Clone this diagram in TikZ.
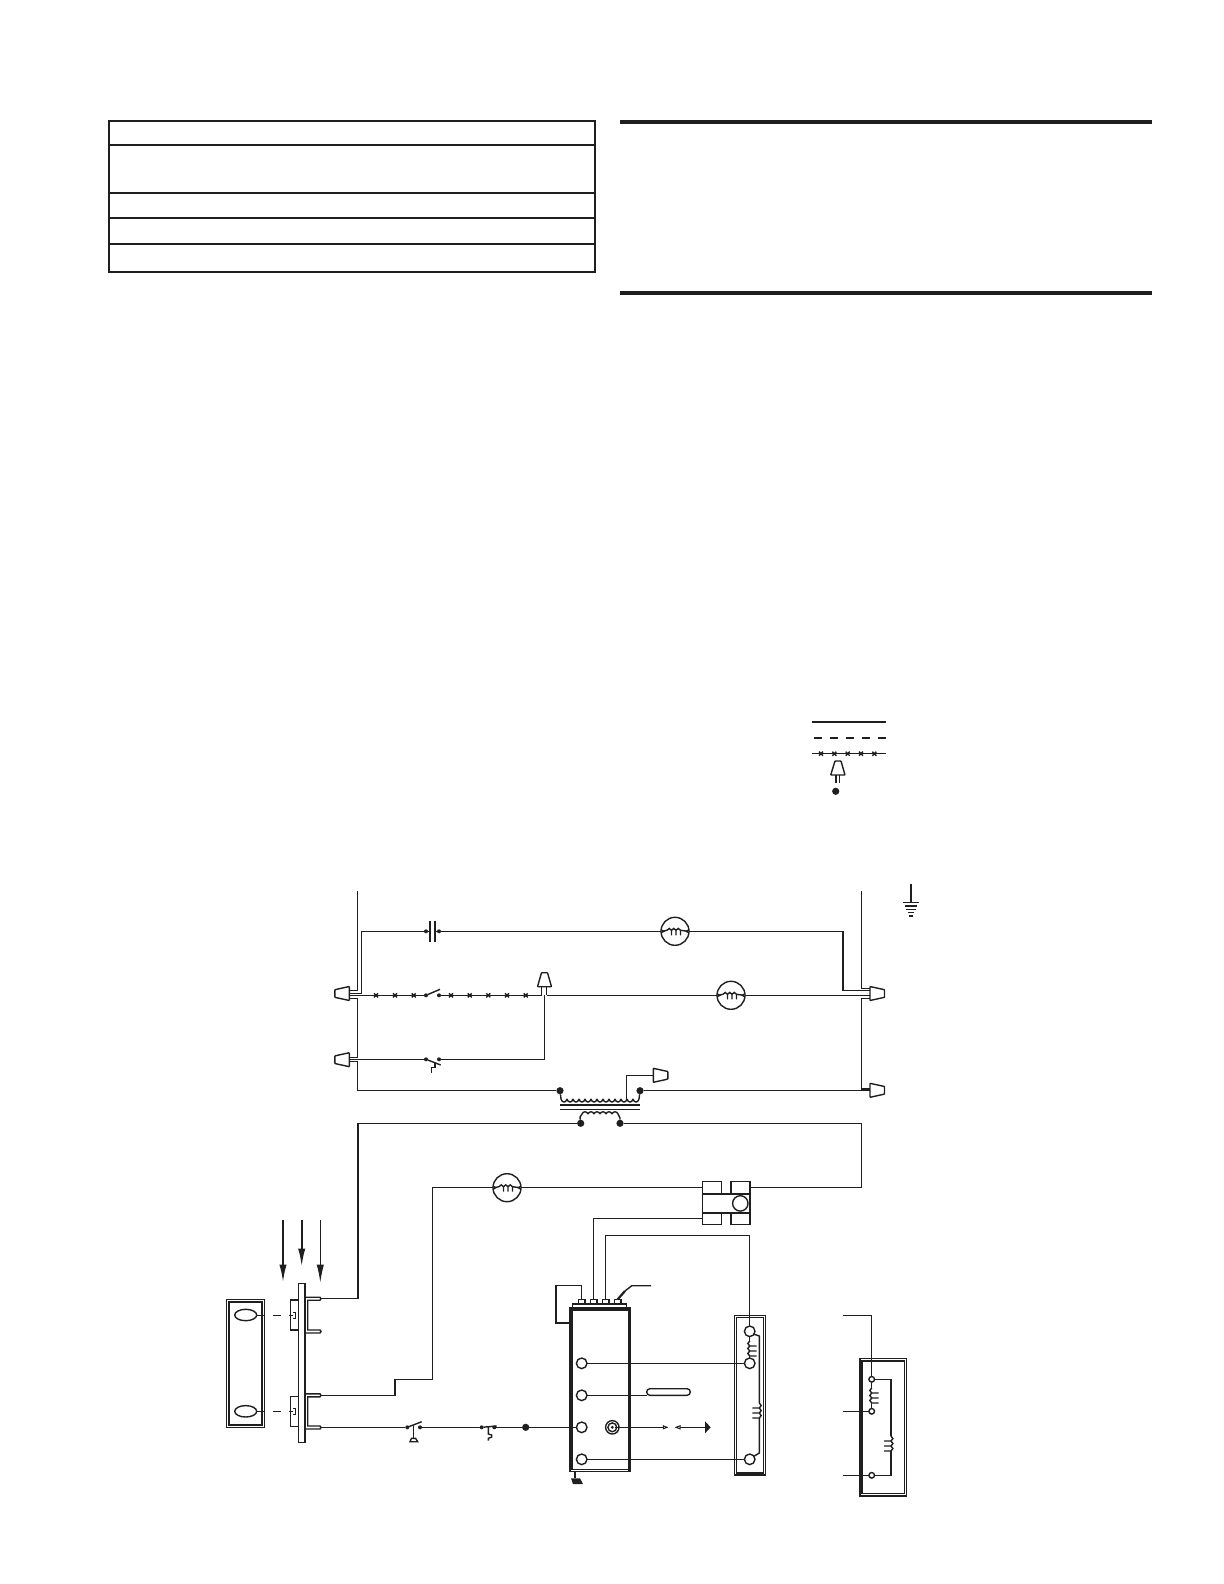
\documentclass[tikz,border=0pt]{standalone}
\usetikzlibrary{arrows.meta,shapes.geometric}
\definecolor{ink}{HTML}{1F1F1F}
\tikzset{
  motor/.style={circle,draw,minimum size=14pt,inner sep=0pt,outer sep=0pt},
  term/.style={circle,draw,fill=white,minimum size=5.3pt,inner sep=0pt,outer sep=0pt},
  ring/.style={circle,draw,fill=white,minimum size=2.8pt,inner sep=0pt,outer sep=0pt},
  pin/.style={circle,fill,minimum size=2pt,inner sep=0pt,outer sep=0pt},
  bigpin/.style={circle,fill,minimum size=3.6pt,inner sep=0pt,outer sep=0pt},
  box/.style={rectangle,draw,inner sep=0pt,outer sep=0pt},
  xmark/.pic={\draw[line width=.7pt] (-2,-2)--(2,2) (-2,2)--(2,-2);},
  nut/.pic={\draw[fill=white,rounded corners=.3pt] (0,-7)--(-14.5,-3.8)--(-14.5,3.8)--(0,7)--cycle;},
  nutup/.pic={\draw[fill=white,rounded corners=.3pt] (-7,0)--(-3,-14)--(3,-14)--(7,0)--cycle;},
  prong/.pic={\foreach \y in {0,5,10}
    {\draw (0,\y) .. controls (-2.5,\y+1) and (-2.5,\y+4) .. (0,\y+5)--(7,\y+5);}},
  wind/.pic={\draw (-13,0)--(-8,-1);
    \foreach \x in {-8,-3.5,1}
    {\draw (\x,-1) .. controls (\x+1,-3.5) and (\x+3.5,-3.5) .. (\x+4.5,-1)--(\x+4.5,4);}
    \draw (5.5,-1)--(13,0);
    \fill (-13,-1.8)--(-10,0)--(-13,1.8)--cycle (13,-1.8)--(10,0)--(13,1.8)--cycle;}
}
\begin{document}
\begin{tikzpicture}[x=.5pt,y=-.5pt,color=ink,line width=.7pt]
\useasboundingbox (0,0) rectangle (1224,1584);

% table and rules
\draw[line width=1.1pt] (109,121) rectangle (595,271.7);
\foreach \y in {144.7,192.7,217.7,243.7}
{
    \draw[line width=1.1pt] (109,\y)--(595,\y);
}
\draw[line width=2pt] (620,122)--(1152,122);
\draw[line width=2pt] (620,293)--(1152,293);

% legend
\draw[line width=1pt] (812,721.7)--(886,721.7);
\draw[line width=1pt,dash pattern=on 4pt off 4pt] (814,737.7)--(886,737.7);
\draw (812,753.7)--(886,753.7);
\foreach \x in {821,834.3,847.7,861,874.3}
{
    \pic at (\x,753.7) {xmark};
}
\draw (836,775)--(836,783) (839.3,775)--(839.3,783);
\draw[rounded corners=.3pt] (830.7,775)--(835,761)--(841,761)--(845,775)--cycle;
\node[bigpin] (legdot) at (835.7,791.3) {};

% ground
\draw (911,884)--(911,902.3);
\draw (903,902.3)--(919,902.3);
\draw (905,906)--(917,906);
\draw (906.3,909.3)--(915.7,909.3);
\draw (908,912.7)--(914,912.7);
\draw[line width=1.2pt] (909.3,915.7)--(912.7,915.7);

% line voltage nodes
\node[pin] (capa) at (426,931.3) {};
\node[pin] (capb) at (439,931.3) {};
\node[motor] (fan1) at (675,931.3) {};
\node[motor] (fan2) at (731,995.3) {};
\node[pin] (swa) at (426,995.3) {};
\node[pin] (swb) at (439,995.3) {};
\node[pin] (lima) at (426,1059.3) {};
\node[pin] (limb) at (439,1059.3) {};
\node[bigpin] (pria) at (560,1090.7) {};
\node[bigpin] (prib) at (640,1090.7) {};
\node[bigpin] (seca) at (580.7,1123.3) {};
\node[bigpin] (secb) at (620,1123.3) {};
\pic at (fan1) {wind};
\pic at (fan2) {wind};

% buses
\draw (357.7,891)--(357.7,990.7)--(349.3,990.7);
\draw (349.3,998.3)--(357.7,998.3)--(357.7,1057.3)--(349.3,1057.3);
\draw (349.3,1061.7)--(357.7,1061.7)--(357.7,1090.7)--(pria);
\draw (861.7,891)--(861.7,988.3)--(870,988.3);
\draw (870,998.3)--(861.7,998.3)--(861.7,1089)--(870,1089);

% capacitor branch
\draw (349.3,993.5)--(361.7,993.5)--(361.7,931.3)--(capa);
\draw[line width=1pt] (430,921)--(430,941.7) (435.3,921)--(435.3,941.7);
\draw (capa)--(430,931.3) (435.3,931.3)--(capb);
\draw (capb)--(fan1);
\draw (fan1)--(843,931.3)--(843,990.7)--(870,990.7);

% switch branch
\draw (349.3,995.3)--(swa);
\foreach \x in {376,395,413.7,451,469.7,488.3,507,525.7}
{
    \pic at (\x,995.3) {xmark};
}
\draw (swa)--(440,989.3);
\draw (swb)--(541.7,995.3);
\draw (546.7,995.3)--(fan2);
\draw (fan2)--(870,995.3);
\draw (541.7,986.7)--(541.7,995.3) (546.7,986.7)--(546.7,995.3);
\draw (544.3,995.3)--(544.3,1059.3)--(limb);
\pic at (544.5,986.7) {nutup};

% limit branch
\draw (349.3,1059.3)--(lima);
\draw (lima)--(440.7,1065);
\draw (435,1062.7)--(435,1067.3)--(431.7,1067.3)--(431.7,1072.7);

% connectors
\pic at (349.3,993.5) {nut};
\pic at (349.3,1059.7) {nut};
\pic[xscale=-1] at (870,993.5) {nut};
\pic[xscale=-1] at (870,1090.3) {nut};
\pic[xscale=-1] at (653.3,1075.3) {nut};

% transformer
\draw (pria)--(561,1099);
\foreach \x in {561,567,...,633}
{
    \draw (\x,1099) .. controls (\x+1,1103) and (\x+5,1103) .. (\x+6,1099);
}
\draw (639,1099)--(prib);
\draw (prib)--(870,1090.7);
\draw (626.7,1100)--(626.7,1075.3)--(653.3,1075.3);
\draw (560,1105)--(640,1105) (560,1109.3)--(640,1109.3);
\draw (seca)--(580,1117)--(582,1114);
\foreach \x in {582,588,...,612}
{
    \draw (\x,1114) .. controls (\x+1,1111) and (\x+5,1111) .. (\x+6,1114);
}
\draw (618,1114)--(620,1118)--(secb);

% low voltage wiring
\node[motor] (fan3) at (507,1187.7) {};
\pic at (fan3) {wind};
\node[box,minimum width=23.7pt,minimum height=9.4pt] (rly) at (726.3,1203.4) {};
\node[box,minimum width=9.5pt,minimum height=6pt] (rla) at (712.2,1187.7) {};
\node[box,minimum width=9.5pt,minimum height=6pt] (rlb) at (740.5,1187.7) {};
\node[box,minimum width=9.5pt,minimum height=6pt] (rlc) at (712.2,1218.7) {};
\node[box,minimum width=9.5pt,minimum height=6pt] (rld) at (740.5,1218.7) {};
\node[circle,draw,minimum size=7.7pt,inner sep=0pt] (rlo) at (740.3,1203.4) {};
\coordinate (corb) at (861.7,1187.7);
\draw (secb)-|(corb)--(rlb.east);
\draw (fan3)--(rla.west);

% module
\node[box,minimum width=30.35pt,minimum height=82pt] (ctl) at (600.35,1389.7) {};
\draw (572,1310) rectangle (628.3,1469.7);
\draw[line width=1.2pt] (628.7,1309)--(628.7,1471);
\draw[line width=1.2pt] (571,1309)--(630,1309);
\draw (572.7,1308.3)--(572.7,1304)--(626.7,1304)--(626.7,1308.3);
\foreach \x/\n in {581.7/a,593.7/b,605.7/c,617.7/d}
{
    \node[box,minimum width=3.4pt,minimum height=2pt] (spade\n) at (\x,1301.3) {};
}
\foreach \y/\n in {1363.3/a,1395.3/b,1427.3/c,1459.3/d}
{
    \node[term] (ctl\n) at (581.7,\y) {};
}
\coordinate (juma) at (556,1285.7);
\coordinate (jumb) at (556,1323);
\draw (spadea.north)|-(juma)--(jumb)--(570,1323);
\coordinate (lead) at (631.7,1285.7);
\draw[line width=1.1pt] (spaded.north)--(625,1291);
\draw (625,1291)--(lead)--(651,1285.7);
\draw (rlc.west)-|(spadeb.north);
\coordinate (jrly) at (749.7,1235.7);

% right side of module
\node[box,minimum width=15.7pt,minimum height=79.7pt] (pnl) at (750,1395.4) {};
\draw (736.3,1317.7) rectangle (763.7,1473);
\node[term] (pnla) at (749.7,1331.3) {};
\node[term] (pnlb) at (749.7,1363.3) {};
\node[term] (pnlc) at (749.7,1459.3) {};
\draw (spadec.north)|-(jrly)--(pnla.north);
\draw (ctla)--(pnlb);
\draw (ctld)--(pnlc);
\draw (pnla.south)--(749.7,1341);
\pic at (749.7,1341) {prong};
\draw (749.7,1356)--(pnlb.north);
\draw (753.5,1334)--(759.3,1336)--(759.3,1403);
\pic[xscale=-1] at (759.3,1403) {prong};
\draw (759.3,1418)--(759.3,1453)--(753.5,1456.5);

% flame rod and sensor
\node[box,rounded corners=1.6pt,minimum width=21.8pt,minimum height=3.3pt] (sens) at (668.5,1392) {};
\draw (ctlb)--(sens.south west);
\node[circle,draw,minimum size=6.7pt,inner sep=0pt] (rod) at (612.3,1427.3) {};
\node[circle,draw,minimum size=4.4pt,inner sep=0pt] (rodb) at (612.3,1427.3) {};
\node[circle,fill,minimum size=1.6pt,inner sep=0pt] (rodc) at (612.3,1427.3) {};
\coordinate (gapa) at (663.3,1427.3);
\coordinate (gapb) at (680,1427.3);
\coordinate (flame) at (705,1427.3);
\draw (rodc)--(gapa);
\draw[fill=white,line width=.5pt] (gapa)+(0,-1.5)--(667,1427.3)--(663.3,1428.8)--cycle;
\draw[fill=white,line width=.5pt] (gapb)+(0,-1.5)--(676,1427.3)--(680,1428.8)--cycle;
\draw (gapb)--(flame);
\fill (flame)+(0,-6)--(710.7,1427.3)--(705,1433.3)--cycle;
\draw (575,1471.7)--(575,1478.3);
\fill (571,1478.3)--(580,1478.3)--(583,1484)--(573,1484)--cycle;

% plate and wiring at left
\draw (298.3,1283.3) rectangle (305,1442.5);
\foreach \y/\n in {1315/a,1411.3/b}
{
    \node[ellipse,draw,minimum width=11pt,minimum height=5.7pt,inner sep=0pt] (oval\n) at (245.7,\y) {};
    \draw[line width=.5pt] (oval\n)--(264.3,\y);
    \draw[line width=.5pt] (273.3,\y)--(281,\y);
    \draw[line width=.5pt] (289.3,\y)--(293,\y);
    \draw (298.3,\y-15)--(290.7,\y-15)--(290.7,\y+15)--(298.3,\y+15);
    \draw[line width=.5pt] (293,\y-3)--(295,\y-3)--(295,\y+3)--(293,\y+3);
}
\draw (226.7,1299.3) rectangle (264.3,1427.7);
\draw[line width=1pt] (229.3,1301.7) rectangle (262.3,1425);
\foreach \y/\w in {1298.7/1331.5,1395.3/1427.5}
{
    \draw (305,\y-1.5)--(320,\y-1.5)--(321,\y)--(320,\y+1.5)--(307.7,\y+1.5)--(307.7,\w-1.5)--(320,\w-1.5)--(321,\w)--(320,\w+1.5)--(305,\w+1.5);
}
\coordinate (forka) at (321,1298.7);
\coordinate (forkb) at (321,1395.3);
\coordinate (forkc) at (321,1427.3);
\coordinate (bendsec) at (358,1298.7);
\coordinate (benda) at (432.3,1379.3);
\coordinate (bendb) at (395,1395.3);
\draw (seca)-|(bendsec)--(forka);
\draw (fan3)-|(benda)-|(bendb)--(forkb);

\draw[line width=1pt,-{Latex[length=9pt,width=3.6pt]}] (283,1220)--(283,1282.7);
\draw[line width=1pt,-{Latex[length=9pt,width=3.6pt]}] (301.7,1220)--(301.7,1266.7);
\draw[line width=.6pt,-{Latex[length=9pt,width=3.6pt]}] (320.3,1220)--(320.3,1282.7);

% bottom row
\node[pin] (pressa) at (407.3,1427.3) {};
\node[pin] (pressb) at (420,1427.3) {};
\node[pin] (rolla) at (481.7,1427.3) {};
\node[pin] (rollb) at (494.3,1427.3) {};
\node[bigpin] (joint) at (525.7,1427.3) {};
\draw (forkc)--(pressa);
\draw (pressa)--(421.7,1421.7);
\draw (413.3,1424.5)--(413.3,1438.3);
\draw (410,1441.7)--(411.5,1438.3)--(415.5,1438.3)--(417.7,1441.7)--cycle;
\draw (pressb)--(rolla);
\draw (rolla)--(496.7,1426);
\draw (488.3,1426.7)--(488.3,1434)--(491.7,1435)--(491.7,1437)--(488.3,1438.3)--(488.3,1440.7);
\draw (rollb)--(joint);
\draw (joint)--(ctlc);

% far right panel
\draw (860,1358.3) rectangle (906.7,1496);
\draw (862,1361) rectangle (904.3,1493.3);
\node[ring] (reda) at (871.7,1379.3) {};
\node[ring] (redb) at (871.7,1411.3) {};
\node[ring] (redc) at (871.7,1475.3) {};
\coordinate (leada) at (843.3,1315.4);
\coordinate (leadb) at (843.3,1411.3);
\coordinate (leadc) at (843.3,1475.3);
\coordinate (topbend) at (871.7,1315.4);
\draw (leada)--(topbend)--(reda);
\draw (leadb)--(redb);
\draw (leadc)--(redc);
\draw (reda)--(871.7,1388);
\pic at (871.7,1388) {prong};
\draw (871.7,1403)--(redb);
\coordinate (coilr) at (891,1379.3);
\draw (reda)--(coilr)--(891,1436);
\pic[xscale=-1] at (891,1436) {prong};
\draw (891,1451)--(891,1475.3)--(redc);
\end{tikzpicture}
\end{document}
